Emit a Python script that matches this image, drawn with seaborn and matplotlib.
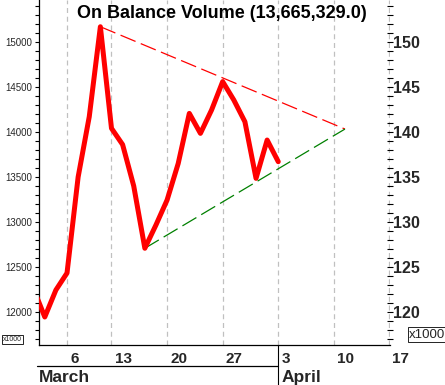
import matplotlib
matplotlib.use('Agg')
import matplotlib.pyplot as plt
import matplotlib.transforms as mtransforms
from matplotlib.ticker import MultipleLocator
import pandas as pd
import seaborn as sns

# trading-day index, 0 = Monday 6 March
day = [-3, -2, -1, 0, 1, 2, 3, 4, 5, 6, 7, 8, 9, 10, 11,
       12, 13, 14, 15, 16, 17, 18, 19]
obv = [12255, 11944, 12244, 12433, 13500, 14170, 15170, 14041, 13860,
       13400, 12708, 12967, 13244, 13650, 14207, 13985, 14244, 14560,
       14356, 14114, 13485, 13911, 13670]

# trend lines (triangle)
upper_x = [3, 25]
upper_y = [15170, 14033]
lower_x = [7, 25]
lower_y = [12708, 14033]

week_pos = [0, 4, 9, 14, 19, 24, 29]
week_labels = ['6', '13', '20', '27', '3', '10', '17']
month_labels = ['March', 'April']
month_pos = [-2.52, 19]

title = 'On Balance Volume (13,665,329.0)'

sns.set_style('white')
plt.rcParams['font.family'] = ['Liberation Sans', 'DejaVu Sans']

df = pd.DataFrame({'day': day, 'obv': obv})

fig = plt.figure(figsize=(4.45, 3.85), dpi=100)
ax = fig.add_axes([39 / 445, 40 / 385, 351 / 445, 345 / 385])

sns.lineplot(data=df, x='day', y='obv', color='#ff0000', linewidth=3.6,
             ax=ax, zorder=3)
ax.plot(upper_x, upper_y, color='#ff0000', lw=0.9, dashes=(13, 4.5), zorder=2)
ax.plot(lower_x, lower_y, color='#008000', lw=0.9, dashes=(13, 4.5), zorder=2)

ax.set_xlim(-2.52, 29.05)
ax.set_ylim(11633, 15467)
ax.set_xlabel('')
ax.set_ylabel('')

for s in ['top', 'right']:
    ax.spines[s].set_visible(False)
for s in ['left', 'bottom']:
    ax.spines[s].set_color('black')
    ax.spines[s].set_linewidth(0.9)

# x: week separators + vertical dashed grid
ax.set_xticks(week_pos)
ax.tick_params(axis='x', length=15, width=0.8, color='black',
               direction='out', labelbottom=False)
ax.grid(axis='x', color='#c0c0c0', lw=0.9, ls=(0, (4, 3)))
ax.grid(axis='y', visible=False)

# left y axis
ax.yaxis.set_major_locator(MultipleLocator(500))
ax.yaxis.set_minor_locator(MultipleLocator(100))
ax.tick_params(axis='y', which='major', length=3, width=0.8, color='black',
               direction='out', labelsize=7, pad=2)
ax.tick_params(axis='y', which='minor', length=3, width=0.8, color='black',
               direction='out', left=True)
ax.yaxis.set_major_formatter(matplotlib.ticker.FuncFormatter(lambda v, p: f'{v:.0f}'))

# right y axis (same scale / 100)
ax2 = ax.twinx()
ax2.set_ylim(11633 / 100, 15467 / 100)
for s in ax2.spines.values():
    s.set_visible(False)
ax2.yaxis.set_major_locator(MultipleLocator(5))
ax2.yaxis.set_minor_locator(MultipleLocator(1))
ax2.tick_params(axis='y', which='both', length=4, width=0.8, color='black',
                direction='inout', right=True, labelsize=11.5, pad=0.5)
for lab in ax2.get_yticklabels():
    lab.set_fontweight('bold')
ax2.grid(False)

# week number labels and month row
for p, lab in zip(week_pos, week_labels):
    ax.annotate(lab, xy=(p, 0), xycoords=('data', 'axes fraction'),
                xytext=(2.2, -10), textcoords='offset points',
                ha='left', va='center', fontsize=11, fontweight='bold',
                annotation_clip=False)

btrans = mtransforms.blended_transform_factory(ax.transData, ax.transAxes)
ax.plot([month_pos[0] - 0.2, month_pos[1]], [-21 / 345, -21 / 345],
        color='black', lw=0.9, transform=btrans, clip_on=False)
ax.plot([month_pos[1], month_pos[1]], [0, -42 / 345],
        color='black', lw=0.8, transform=btrans, clip_on=False)
for p, lab in zip(month_pos, month_labels):
    ax.annotate(lab, xy=(p, 0), xycoords=('data', 'axes fraction'),
                xytext=(0 if p < 0 else 2.2, -23.3), textcoords='offset points',
                ha='left', va='center', fontsize=12.5, fontweight='bold',
                annotation_clip=False)

ax.text(0.521, 0.962, title, transform=ax.transAxes, ha='center',
        va='center', fontsize=13, fontweight='bold', color='black')

box = dict(boxstyle='square,pad=0.1', fc='white', ec='black', lw=0.6)
fig.text(3 / 445, (385 - 339.5) / 385, 'x1000', fontsize=5, ha='left',
         va='center', bbox=box)
fig.text(409 / 445, (385 - 334.5) / 385, 'x1000', fontsize=9.5, ha='left',
         va='center', bbox=box)

fig.savefig('out.png', dpi=100)
